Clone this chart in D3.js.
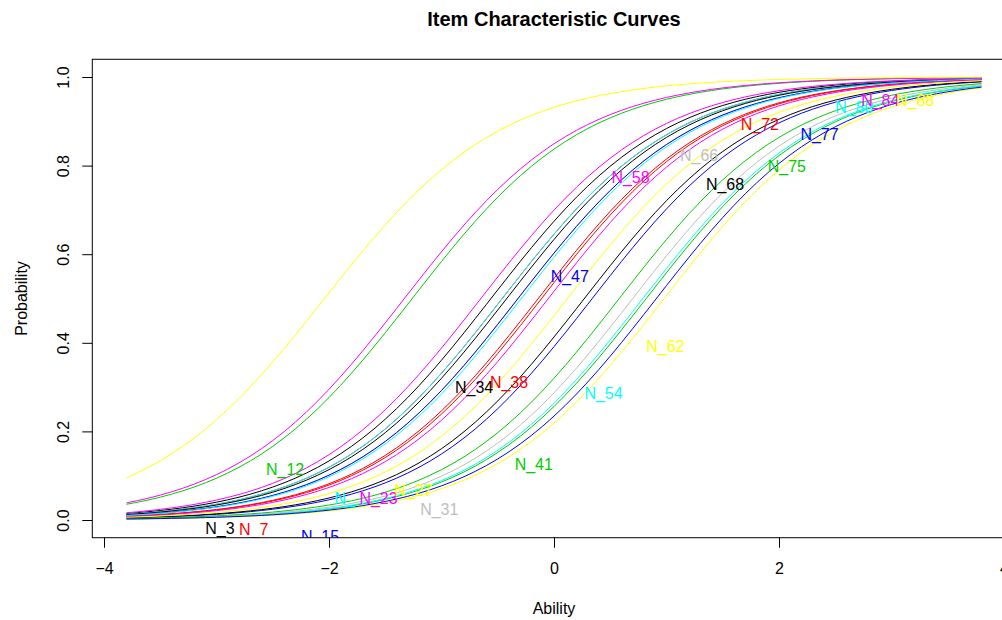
<!DOCTYPE html>
<html>
<head>
<meta charset="utf-8">
<script src="https://cdn.jsdelivr.net/npm/d3@7.9.0/dist/d3.min.js"></script>
<style>
  body { margin: 0; background: #fff; }
  svg { display: block; font-family: "Liberation Sans", Arial, sans-serif; }
</style>
</head>
<body>
<div id="chart"></div>
<script>
// item names (label text as it appears in the plot)
const items = ['N_3', 'N_7', 'N_12', 'N_15', 'N_', 'N_23', 'N_27', 'N_31',
  'N_34', 'N_38', 'N_41', 'N_47', 'N_54', 'N_58', 'N_62', 'N_66',
  'N_68', 'N_72', 'N_75', 'N_77', 'N_80', 'N_84', 'N_88'];

// item parameters
const difficulty = [-0.56, -0.46, -1.26, 0.34, -0.46, -1.33, -2.04, -0.32,
  -0.42, -0.11, 0.82, -0.32, 0.79, -0.65, 0.98, 0.70,
  0.27, -0.14, 0.58, 0.91, -0.29, -0.05, 0.12];
const discrimination = [1.3, 1.3, 1.3, 1.3, 1.3, 1.3, 1.28, 1.3,
  1.3, 1.3, 1.3, 1.3, 1.3, 1.3, 1.3, 1.3,
  1.3, 1.3, 1.3, 1.3, 1.3, 1.3, 1.3];

// where each item label sits (ability, probability)
const labelTheta = [-2.97, -2.67, -2.39, -2.08, -1.86, -1.56, -1.25, -1.02,
  -0.71, -0.40, -0.18, 0.14, 0.44, 0.68, 0.99, 1.29,
  1.52, 1.83, 2.07, 2.36, 2.67, 2.90, 3.21];
const labelProb = [-0.018, -0.02, 0.115, -0.036, 0.05, 0.05, 0.068, 0.025,
  0.30, 0.31, 0.126, 0.551, 0.287, 0.774, 0.393, 0.824,
  0.758, 0.894, 0.799, 0.871, 0.932, 0.948, 0.948];

const xTicks = [-4, -2, 0, 2, 4];
const yTicks = [0, 0.2, 0.4, 0.6, 0.8, 1.0];
const thetaMin = -3.8, thetaMax = 3.8;

// R default palette (old)
const palette = ['#000000', '#FF0000', '#00CD00', '#0000FF', '#00FFFF', '#FF00FF', '#FFFF00', '#BEBEBE'];

const width = 1002, height = 620;

const x = d3.scaleLinear().domain([-4, 4]).range([104, 1004]);
const y = d3.scaleLinear().domain([0, 1]).range([520, 77]);

// plot box = data range + 4% (R style)
const pad = (thetaMax - thetaMin) * 0.04;
const box = {
  left: x(thetaMin - pad), right: x(thetaMax + pad),
  top: y(1.04), bottom: y(-0.04)
};

const svg = d3.select('#chart').append('svg')
  .attr('width', width)
  .attr('height', height);

svg.append('defs').append('clipPath').attr('id', 'plotclip')
  .append('rect')
  .attr('x', box.left).attr('y', box.top)
  .attr('width', box.right - box.left).attr('height', box.bottom - box.top);

// 2PL curve
const icc = (a, b) => t => 1 / (1 + Math.exp(-a * (t - b)));
const grid = d3.range(thetaMin, thetaMax + 1e-9, 0.1);

const line = d3.line()
  .x(d => x(d[0]))
  .y(d => y(d[1]));

const plot = svg.append('g').attr('clip-path', 'url(#plotclip)');

plot.selectAll('path.icc')
  .data(items.map((name, i) => ({ name, i, p: icc(discrimination[i], difficulty[i]) })))
  .join('path')
  .attr('class', 'icc')
  .attr('fill', 'none')
  .attr('stroke', d => palette[d.i % 8])
  .attr('stroke-width', 1)
  .attr('d', d => line(grid.map(t => [t, d.p(t)])));

plot.selectAll('text.lab')
  .data(items)
  .join('text')
  .attr('class', 'lab')
  .attr('x', (d, i) => x(labelTheta[i]))
  .attr('y', (d, i) => y(labelProb[i]))
  .attr('dy', '0.36em')
  .attr('text-anchor', 'middle')
  .attr('font-size', 16)
  .attr('fill', (d, i) => palette[i % 8])
  .text(d => d);

// box
svg.append('rect')
  .attr('x', box.left).attr('y', box.top)
  .attr('width', box.right - box.left).attr('height', box.bottom - box.top)
  .attr('fill', 'none').attr('stroke', '#000').attr('stroke-width', 1);

// x axis
const xAxis = d3.axisBottom(x).tickValues(xTicks).tickSize(10).tickPadding(15)
  .tickFormat(d3.format('d'));
const gx = svg.append('g')
  .attr('transform', `translate(0, ${box.bottom})`)
  .call(xAxis);
gx.select('.domain').attr('stroke', 'none');
gx.selectAll('text').attr('font-size', 16).attr('fill', '#000')
  .attr('font-family', '"Liberation Sans", Arial, sans-serif');

// y axis
const yAxis = d3.axisLeft(y).tickValues(yTicks).tickSize(10).tickFormat(d3.format('.1f'));
const gy = svg.append('g')
  .attr('transform', `translate(${box.left}, 0)`)
  .call(yAxis);
gy.select('.domain').attr('stroke', 'none');
gy.selectAll('.tick text')
  .attr('x', null).attr('dy', null)
  .attr('text-anchor', 'middle')
  .attr('transform', 'translate(-23,0) rotate(-90)')
  .attr('font-size', 16).attr('fill', '#000')
  .attr('font-family', '"Liberation Sans", Arial, sans-serif');

// titles
svg.append('text')
  .attr('x', (box.left + box.right) / 2).attr('y', 26)
  .attr('text-anchor', 'middle')
  .attr('font-weight', 'bold').attr('font-size', 20)
  .text('Item Characteristic Curves');

svg.append('text')
  .attr('x', (box.left + box.right) / 2).attr('y', 614)
  .attr('text-anchor', 'middle')
  .attr('font-size', 16)
  .text('Ability');

svg.append('text')
  .attr('transform', `translate(27, ${(box.top + box.bottom) / 2}) rotate(-90)`)
  .attr('text-anchor', 'middle')
  .attr('font-size', 16)
  .text('Probability');
</script>
</body>
</html>
